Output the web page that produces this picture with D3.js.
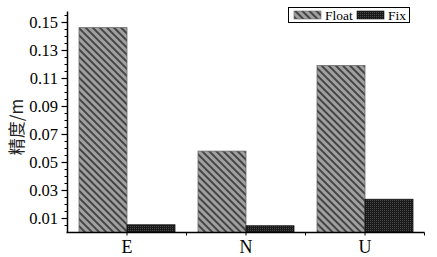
<!DOCTYPE html>
<html><head><meta charset="utf-8">
<script src="https://cdn.jsdelivr.net/npm/d3@7"></script>
<style>body{margin:0;background:#fff}svg{display:block}</style>
</head><body>
<svg id="c" width="437" height="257"></svg>
<script>
const categories = ["E", "N", "U"];
const seriesNames = ["Float", "Fix"];
const floatValues = [0.146, 0.058, 0.119];
const fixValues = [0.0055, 0.0048, 0.0237];
const yTickLabels = [0.01, 0.03, 0.05, 0.07, 0.09, 0.11, 0.13, 0.15];
const yLabel = "精度/m";

const svg = d3.select("#c");
const font = "'Liberation Serif','Times New Roman',serif";
const defs = svg.append("defs");
const p1 = defs.append("pattern").attr("id","hatch").attr("patternUnits","userSpaceOnUse")
  .attr("width",5).attr("height",5).attr("patternTransform","rotate(-45)");
p1.append("rect").attr("width",5).attr("height",5).attr("fill","#a0a0a0");
p1.append("line").attr("x1",1).attr("x2",1).attr("y1",0).attr("y2",5).attr("stroke","#2e2e2e").attr("stroke-width",1.6);
const p2 = defs.append("pattern").attr("id","dots").attr("patternUnits","userSpaceOnUse")
  .attr("width",2).attr("height",2);
p2.append("rect").attr("width",2).attr("height",2).attr("fill","#1a1a1a");
p2.append("rect").attr("width",1).attr("height",1).attr("fill","#4a4a4a");

const x0 = 67.5, x1 = 424.5, yB = 232.5, yT = 11.5;
const x = d3.scaleBand().domain(categories).range([x0, x1]).paddingInner(0).paddingOuter(0);
const y = d3.scaleLinear().domain([0, 0.1575]).range([yB, yT]);
const barW = 48;
const fills = ["url(#hatch)", "url(#dots)"];
const series = [floatValues, fixValues];

series.forEach((vals, si) => {
  svg.append("g").selectAll("rect").data(categories).join("rect")
    .attr("x", d => x(d) + x.bandwidth()/2 - barW + si*barW)
    .attr("y", (d,i) => y(vals[i]))
    .attr("width", barW)
    .attr("height", (d,i) => yB - y(vals[i]))
    .attr("fill", fills[si])
    .attr("stroke", si===0 ? "#6a6a6a" : "#111")
    .attr("stroke-width", 0.8);
});

// y axis
const minor = d3.range(0.005, 0.1576, 0.005);
const ga = svg.append("g");
ga.append("line").attr("x1",x0).attr("x2",x0).attr("y1",yT).attr("y2",yB).attr("stroke","#000").attr("stroke-width",1.5);
ga.selectAll("line.m").data(minor).join("line").attr("class","m")
  .attr("x1", x0-3).attr("x2", x0).attr("y1", d=>Math.round(y(d))+0.5).attr("y2", d=>Math.round(y(d))+0.5)
  .attr("stroke","#000").attr("stroke-width",1);
ga.selectAll("line.M").data(yTickLabels).join("line").attr("class","M")
  .attr("x1", x0-6).attr("x2", x0).attr("y1", d=>Math.round(y(d))+0.5).attr("y2", d=>Math.round(y(d))+0.5)
  .attr("stroke","#000").attr("stroke-width",1.2);
ga.selectAll("text").data(yTickLabels).join("text")
  .attr("x", 58).attr("y", d=>y(d)).attr("dy","0.35em").attr("text-anchor","end")
  .attr("font-family",font).attr("font-size",16.5).attr("fill","#000")
  .text(d=>d.toFixed(2));

// x axis
svg.append("line").attr("x1",x0-1).attr("x2",x1).attr("y1",yB).attr("y2",yB).attr("stroke","#000").attr("stroke-width",1.5);
svg.append("g").selectAll("line").data(categories).join("line")
  .attr("x1", d=>x(d)+x.bandwidth()).attr("x2", d=>x(d)+x.bandwidth())
  .attr("y1", yB).attr("y2", yB+3).attr("stroke","#000");
svg.append("g").selectAll("line").data(categories).join("line")
  .attr("x1", d=>x(d)+x.bandwidth()/2).attr("x2", d=>x(d)+x.bandwidth()/2)
  .attr("y1", yB).attr("y2", yB+3).attr("stroke","#000");
svg.append("g").selectAll("text").data(categories).join("text")
  .attr("x", d=>x(d)+x.bandwidth()/2).attr("y", 253).attr("text-anchor","middle")
  .attr("font-family",font).attr("font-size",18).attr("fill","#000").text(d=>d);

// y label
svg.append("text").attr("transform","translate(23,127) rotate(-90)").attr("text-anchor","middle")
  .attr("font-family","'Noto Sans CJK SC',sans-serif").attr("font-size",17).attr("fill","#222").text(yLabel);

// legend
const lg = svg.append("g");
lg.append("rect").attr("x",288.5).attr("y",7.5).attr("width",121).attr("height",15).attr("fill","#fff").attr("stroke","#000").attr("stroke-width",1);
const lx = [294, 357];
seriesNames.forEach((n,i)=>{
  lg.append("rect").attr("x",lx[i]).attr("y",11).attr("width",27).attr("height",8).attr("fill",fills[i]).attr("stroke",i===0?"#6a6a6a":"#111").attr("stroke-width",0.6);
  lg.append("text").attr("x",lx[i]+31).attr("y",19.5).attr("font-family",font).attr("font-size",13.5).attr("fill","#000").text(n);
});
</script>
</body></html>
